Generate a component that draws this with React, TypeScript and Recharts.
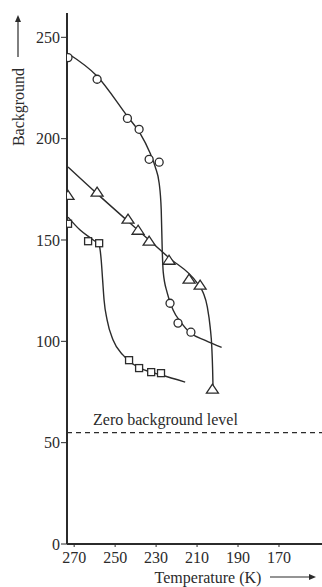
import React from "react";
import {
  ComposedChart,
  Line,
  Scatter,
  XAxis,
  YAxis,
  ReferenceLine,
} from "recharts";

// measured points (temperature K, background)
const circles = [
  { t: 273, v: 240 },
  { t: 258.8, v: 229.3 },
  { t: 244, v: 210 },
  { t: 238.3, v: 204.6 },
  { t: 233.4, v: 189.8 },
  { t: 228.5, v: 188.4 },
  { t: 223.2, v: 118.8 },
  { t: 219.3, v: 109 },
  { t: 213, v: 104.5 },
];

const triangles = [
  { t: 273, v: 172 },
  { t: 258.8, v: 173.6 },
  { t: 243.7, v: 160.3 },
  { t: 238.8, v: 154.8 },
  { t: 233.4, v: 149.4 },
  { t: 223.7, v: 140 },
  { t: 213.9, v: 130.7 },
  { t: 208.5, v: 127.7 },
  { t: 202.5, v: 76.4 },
];

const squares = [
  { t: 273, v: 158 },
  { t: 263.2, v: 149.4 },
  { t: 257.8, v: 148.4 },
  { t: 243.2, v: 90.7 },
  { t: 238.3, v: 86.8 },
  { t: 232.4, v: 84.8 },
  { t: 227.6, v: 84.3 },
];

// hand-drawn fit curves
const circleCurve = [
  { t: 273, v: 242 },
  { t: 259, v: 231 },
  { t: 244, v: 211 },
  { t: 238, v: 203 },
  { t: 233, v: 193 },
  { t: 230.4, v: 186 },
  { t: 228.5, v: 178 },
  { t: 227.5, v: 165 },
  { t: 227, v: 145 },
  { t: 226.5, v: 134 },
  { t: 224.6, v: 124 },
  { t: 221.7, v: 115.5 },
  { t: 218, v: 109.5 },
  { t: 213, v: 104 },
  { t: 206, v: 100.5 },
  { t: 198, v: 97 },
];

const triangleCurve = [
  { t: 273, v: 186 },
  { t: 259, v: 173 },
  { t: 244, v: 159.5 },
  { t: 224, v: 141.5 },
  { t: 210, v: 128.8 },
  { t: 207, v: 124 },
  { t: 205, v: 117 },
  { t: 203.6, v: 107 },
  { t: 202.8, v: 97 },
  { t: 202.4, v: 86 },
  { t: 202.2, v: 77 },
];

const squareCurve = [
  { t: 273, v: 161.3 },
  { t: 267.1, v: 154.9 },
  { t: 260.7, v: 150 },
  { t: 257.8, v: 147.5 },
  { t: 256.8, v: 140.1 },
  { t: 256.1, v: 130.2 },
  { t: 255.4, v: 120.4 },
  { t: 253.9, v: 110.5 },
  { t: 251, v: 100.6 },
  { t: 246.1, v: 93.2 },
  { t: 242.7, v: 89.8 },
  { t: 237.8, v: 86.8 },
  { t: 232.9, v: 84.9 },
  { t: 227.5, v: 83.4 },
  { t: 215.8, v: 79.9 },
];

const xTicks = [270, 250, 230, 210, 190, 170];
const yTicks = [0, 50, 100, 150, 200, 250];
const zeroLevel = 55;

const INK = "#2b2b2b";
const FONT = "'Liberation Serif', 'Times New Roman', serif";

const CircleMark = (p: any) => (
  <circle cx={p.cx} cy={p.cy} r={4} fill="#fff" stroke={INK} strokeWidth={1.3} />
);

const TriangleMark = (p: any) => (
  <polygon
    points={`${p.cx},${p.cy - 5} ${p.cx - 6},${p.cy + 4} ${p.cx + 6},${p.cy + 4}`}
    fill="#fff"
    stroke={INK}
    strokeWidth={1.3}
  />
);

const SquareMark = (p: any) => (
  <rect x={p.cx - 3.5} y={p.cy - 3.5} width={7} height={7} fill="#fff" stroke={INK} strokeWidth={1.3} />
);

const YLabel = (props: any) => {
  const vb = props.viewBox;
  const x = vb.x + 18;
  const top = vb.y + 2;
  return (
    <g>
      <line x1={x} y1={top + 42} x2={x} y2={top + 4} stroke={INK} strokeWidth={1.2} />
      <polygon points={`${x},${top} ${x - 3},${top + 7} ${x + 3},${top + 7}`} fill={INK} />
      <text
        x={x}
        y={top + 92}
        transform={`rotate(-90, ${x}, ${top + 92})`}
        textAnchor="middle"
        dominantBaseline="central"
        fontFamily={FONT}
        fontSize={16}
        fill={INK}
      >
        Background
      </text>
    </g>
  );
};

const XLabel = (props: any) => {
  const vb = props.viewBox;
  const y = vb.y + 33;
  const cx = vb.x + 141;
  return (
    <g>
      <text x={cx} y={y} textAnchor="middle" dominantBaseline="central" fontFamily={FONT} fontSize={16} fill={INK}>
        Temperature (K)
      </text>
      <line x1={cx + 62} y1={y} x2={cx + 102} y2={y} stroke={INK} strokeWidth={1.2} />
      <polygon points={`${cx + 108},${y} ${cx + 101},${y - 3} ${cx + 101},${y + 3}`} fill={INK} />
    </g>
  );
};

const ZeroLabel = (props: any) => {
  const vb = props.viewBox;
  return (
    <text x={vb.x + 26} y={vb.y - 8} fontFamily={FONT} fontSize={16} fill={INK}>
      Zero background level
    </text>
  );
};

export default function App() {
  return (
    <div style={{ position: "absolute", left: 0, top: 0, background: "#fff" }}>
      <ComposedChart width={322} height={587} margin={{ top: 13, right: 0, left: 0, bottom: 0 }}>
        <XAxis
          type="number"
          dataKey="t"
          domain={[149, 273.5]}
          reversed
          allowDataOverflow
          ticks={xTicks}
          tickSize={3}
          tickMargin={5}
          height={43}
          axisLine={{ stroke: INK, strokeWidth: 2 }}
          tickLine={{ stroke: INK }}
          tick={{ fill: INK, fontSize: 16, fontFamily: FONT }}
          label={{ content: XLabel }}
        />
        <YAxis
          type="number"
          dataKey="v"
          domain={[0, 262]}
          allowDataOverflow
          ticks={yTicks}
          tickSize={6}
          tickMargin={1}
          width={67}
          axisLine={{ stroke: INK, strokeWidth: 2 }}
          tickLine={{ stroke: INK }}
          tick={{ fill: INK, fontSize: 16, fontFamily: FONT }}
          label={{ content: YLabel }}
        />
        <ReferenceLine
          y={zeroLevel}
          stroke={INK}
          strokeWidth={1.2}
          strokeDasharray="5 4"
          label={{ content: ZeroLabel }}
        />
        <Line data={circleCurve} dataKey="v" type="monotone" stroke={INK} strokeWidth={1.4} dot={false} isAnimationActive={false} />
        <Line data={triangleCurve} dataKey="v" type="monotone" stroke={INK} strokeWidth={1.4} dot={false} isAnimationActive={false} />
        <Line data={squareCurve} dataKey="v" type="monotone" stroke={INK} strokeWidth={1.4} dot={false} isAnimationActive={false} />
        <Scatter data={circles} dataKey="v" shape={CircleMark} isAnimationActive={false} />
        <Scatter data={triangles} dataKey="v" shape={TriangleMark} isAnimationActive={false} />
        <Scatter data={squares} dataKey="v" shape={SquareMark} isAnimationActive={false} />
      </ComposedChart>
    </div>
  );
}
